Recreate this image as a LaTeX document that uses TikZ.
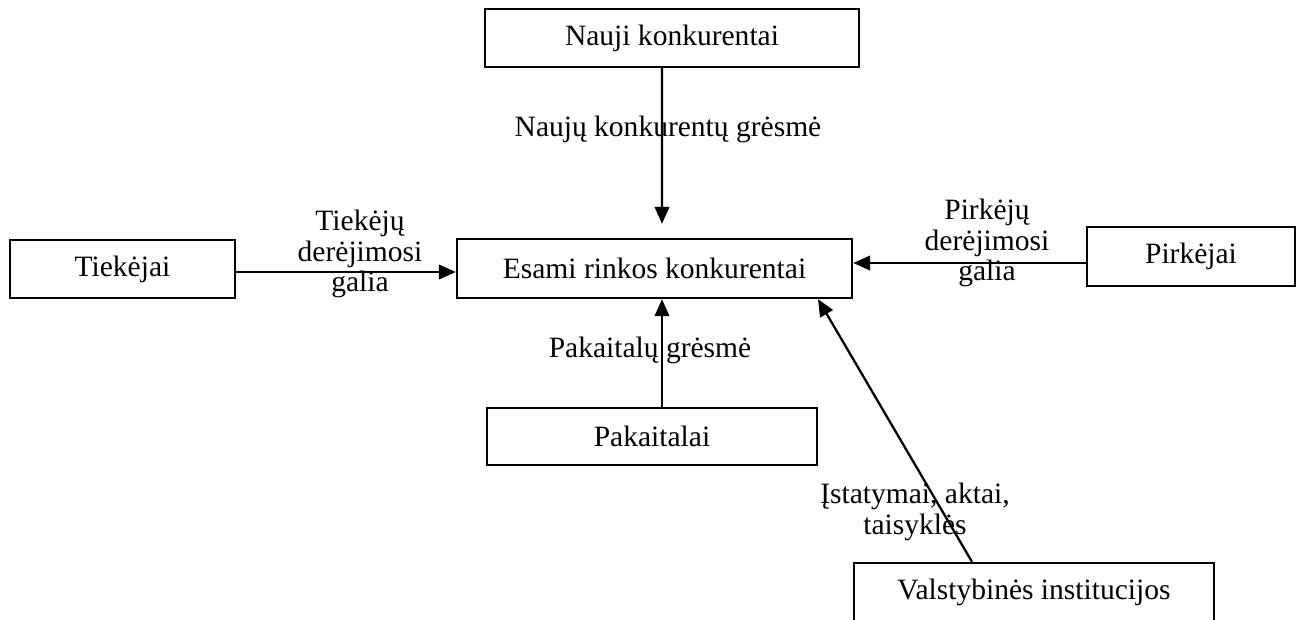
\documentclass[tikz,border=0pt]{standalone}
\usepackage{fontspec}
\setmainfont{Liberation Serif}
\usetikzlibrary{arrows.meta}

\begin{document}
\begin{tikzpicture}[
    font=\fontsize{16.8}{17.5}\selectfont,
    box/.style={draw, line width=1.3pt, minimum height=1.16cm, inner sep=0pt},
    lbl/.style={align=center, inner sep=0pt},
    arr/.style={-{Triangle[length=0.34cm,width=0.29cm]}, line width=1.3pt}]
    \useasboundingbox (0,0) rectangle (26.06,-12.38);
    \node[box, minimum width=7.48cm] (nauji) at (13.44,-0.76) {Nauji konkurentai};
    \node[box, minimum width=7.9cm, minimum height=1.18cm] (esami) at (13.09,-5.37) {Esami rinkos konkurentai};
    \node[box, minimum width=4.5cm] (tiekejai) at (2.45,-5.38) {Tiekėjai};
    \node[box, minimum width=4.16cm, minimum height=1.18cm] (pirkejai) at (23.82,-5.13) {Pirkėjai};
    \node[box, minimum width=6.6cm, minimum height=1.14cm] (pakaitalai) at (13.04,-8.73) {Pakaitalai};
    \node[box, minimum width=7.2cm] (valstybines) at (20.68,-11.84) {Valstybinės institucijos};
    \node[lbl] (naujugresme) at (13.36,-2.58) {Naujų konkurentų grėsmė};
    \node[lbl] (tiekejugalia) at (7.2,-5.08) {Tiekėjų\\derėjimosi\\galia};
    \node[lbl] (pirkejugalia) at (19.74,-4.86) {Pirkėjų\\derėjimosi\\galia};
    \node[lbl] (pakaitalugresme) at (13.0,-7.0) {Pakaitalų grėsmė};
    \node[lbl] (istatymai) at (18.3,-10.24) {Įstatymai, aktai,\\taisyklės};
    \coordinate (tk) at ([yshift=-0.06cm]tiekejai.east);
    \coordinate (pk) at ([yshift=-0.13cm]pirkejai.west);
    \draw[arr, shorten >=0.28cm] ([xshift=-0.2cm]nauji.south) -- ([xshift=0.15cm]esami.north);
    \draw[arr] (tk) -- (tk -| esami.west);
    \draw[arr] (pk) -- (pk -| esami.east);
    \draw[arr] ([xshift=0.2cm]pakaitalai.north) -- ([xshift=0.2cm]pakaitalai.north |- esami.south);
    \draw[arr] ([xshift=-1.24cm]valstybines.north) -- ([xshift=3.27cm]esami.south);
\end{tikzpicture}
\end{document}
